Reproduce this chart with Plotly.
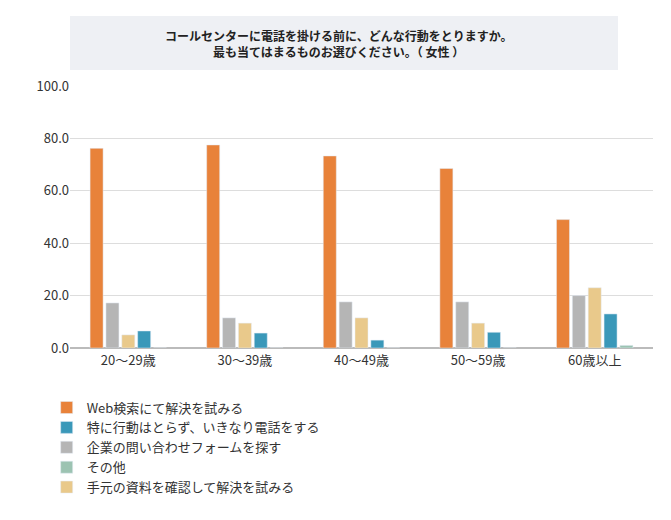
import plotly.graph_objects as go

categories = ["20～29歳", "30～39歳", "40～49歳", "50～59歳", "60歳以上"]
series_names = ["Web検索にて解決を試みる", "企業の問い合わせフォームを探す", "手元の資料を確認して解決を試みる",
                "特に行動はとらず、いきなり電話をする", "その他"]
values = [
    [76.2, 77.5, 73.3, 68.5, 49.0],
    [17.2, 11.5, 17.6, 17.6, 20.0],
    [5.0, 9.5, 11.5, 9.5, 23.0],
    [6.5, 5.7, 3.0, 6.0, 13.0],
    [0.0, 0.0, 0.0, 0.0, 1.0],
]
colors = ["#E8823A", "#B5B5B5", "#E9C98B", "#3A98B9", "#9CC3B2"]
ranks = [1, 3, 5, 2, 4]

fig = go.Figure()
for n, v, c, r in zip(series_names, values, colors, ranks):
    fig.add_trace(go.Bar(x=categories, y=v, name=n, marker_color=c, legendrank=r))

fig.update_layout(
    width=671, height=520, plot_bgcolor="white", paper_bgcolor="white",
    font=dict(family="Noto Sans CJK JP", size=13, color="#333"),
    margin=dict(l=62, r=26, t=78, b=180),
    bargap=0.32, bargroupgap=0.18,
    yaxis=dict(range=[0, 100], dtick=20, tickformat=".1f", gridcolor="#DDDDDD",
               zeroline=True, zerolinecolor="#BBBBBB", ticks="", ticklen=0),
    xaxis=dict(showline=True, linecolor="#BBBBBB"),
    legend=dict(orientation="h", x=-0.04, xanchor="left", y=-0.17, yanchor="top",
                entrywidth=290, font=dict(size=13), traceorder="normal", tracegroupgap=8),
    annotations=[dict(text="<b>コールセンターに電話を掛ける前に、どんな行動をとりますか。</b><br><b>最も当てはまるものお選びください。（ 女性 ）</b>",
                      xref="paper", yref="paper", x=0.46, y=1.0, yshift=43,
                      showarrow=False, font=dict(size=12, color="#222", family="Noto Sans CJK JP"),
                      xanchor="center", yanchor="middle")],
    shapes=[dict(type="rect", xref="paper", yref="paper", x0=0.0, x1=0.94,
                 ysizemode="pixel", yanchor=1.0, y0=16, y1=70, layer="below",
                 fillcolor="#EEF0F4", line=dict(width=0))],
)
fig.write_html("out.html")
